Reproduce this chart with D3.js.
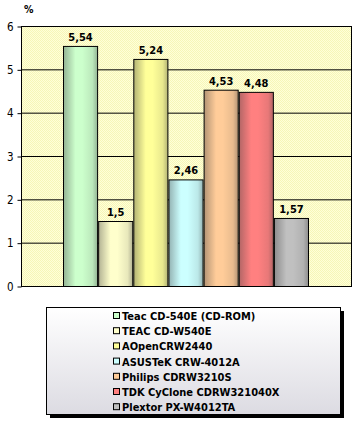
<!DOCTYPE html>
<html><head><meta charset="utf-8">
<script src="https://cdn.jsdelivr.net/npm/d3@7"></script>
<style>
html,body{margin:0;padding:0;background:#fff;}
svg{display:block;}
</style></head>
<body>
<svg id="chart" width="357" height="424"></svg>
<script>
const seriesNames = ["Teac CD-540E (CD-ROM)","TEAC CD-W540E","AOpenCRW2440","ASUSTeK CRW-4012A","Philips CDRW3210S","TDK CyClone CDRW321040X","Plextor PX-W4012TA"];
const seriesValues = [5.54, 1.5, 5.24, 2.46, 4.53, 4.48, 1.57];
const valueLabels = ["5,54","1,5","5,24","2,46","4,53","4,48","1,57"];
const seriesColors = ["#ccffcc","#ffffcc","#ffff99","#ccffff","#ffcc99","#ff8080","#c0c0c0"];
const yTicks = [0,1,2,3,4,5,6];
const yUnit = "%";

const svg = d3.select("#chart");
const plot = {left:21, top:26, right:352, bottom:286};
const y = d3.scaleLinear().domain([0,6]).range([plot.bottom, plot.top]);
const x = d3.scaleBand().domain(seriesNames).range([63, 308]).paddingInner(0.03);
const fontFam = "'DejaVu Sans Condensed', 'DejaVu Sans', sans-serif";

const defs = svg.append("defs");
const pat = defs.append("pattern").attr("id","dither").attr("width",2).attr("height",2).attr("patternUnits","userSpaceOnUse");
pat.append("rect").attr("width",2).attr("height",2).attr("fill","#ffffd8");
pat.append("rect").attr("width",1).attr("height",1).attr("fill","#f6f6b8");
pat.append("rect").attr("x",1).attr("y",1).attr("width",1).attr("height",1).attr("fill","#f6f6b8");

seriesColors.forEach((c,i)=>{
  const g = defs.append("linearGradient").attr("id","bg"+i).attr("x1","0").attr("x2","1").attr("y1","0").attr("y2","0");
  const dark = d3.interpolateRgb(c, "#404040")(0.4);
  const mid = d3.interpolateRgb(c, "#404040")(0.12);
  g.append("stop").attr("offset","0%").attr("stop-color",dark);
  g.append("stop").attr("offset","35%").attr("stop-color",c);
  g.append("stop").attr("offset","55%").attr("stop-color",c);
  g.append("stop").attr("offset","85%").attr("stop-color",mid);
  g.append("stop").attr("offset","100%").attr("stop-color",dark);
});
const lg = defs.append("linearGradient").attr("id","legbg").attr("x1","0").attr("x2","0").attr("y1","0").attr("y2","1");
lg.append("stop").attr("offset","0%").attr("stop-color","#ffffff");
lg.append("stop").attr("offset","100%").attr("stop-color","#dcdbe2");

// plot background
svg.append("rect").attr("x",plot.left).attr("y",plot.top)
  .attr("width",plot.right-plot.left).attr("height",plot.bottom-plot.top)
  .attr("fill","url(#dither)");

// grid lines
svg.append("g").selectAll("line").data(yTicks.filter(t=>t>0&&t<6)).join("line")
  .attr("x1",plot.left).attr("x2",plot.right)
  .attr("y1",d=>y(d)+0.5).attr("y2",d=>y(d)+0.5)
  .attr("stroke","#000").attr("stroke-width",1);

// y axis
const yAxis = d3.axisLeft(y).tickValues(yTicks).tickSize(4).tickPadding(4).tickFormat(d3.format("d"));
const ag = svg.append("g").attr("transform",`translate(${plot.left+0.5},0.5)`).call(yAxis);
ag.select(".domain").remove();
ag.selectAll(".tick line").attr("stroke","#000");
ag.selectAll(".tick text").attr("fill","#000").style("font-family",fontFam).style("font-size","11.5px");

// frame
svg.append("rect").attr("x",plot.left+0.5).attr("y",plot.top+0.5)
  .attr("width",plot.right-plot.left-1).attr("height",plot.bottom-plot.top)
  .attr("fill","none").attr("stroke","#000");

// bars
svg.append("g").selectAll("rect").data(seriesValues).join("rect")
  .attr("x",(d,i)=>x(seriesNames[i])+0.5)
  .attr("y",d=>y(d)+0.5)
  .attr("width",x.bandwidth())
  .attr("height",d=>y(0)-y(d))
  .attr("fill",(d,i)=>`url(#bg${i})`)
  .attr("stroke","#000").attr("stroke-width",1);

// value labels
svg.append("g").selectAll("text").data(seriesValues).join("text")
  .attr("x",(d,i)=>x(seriesNames[i])+x.bandwidth()/2+0.5)
  .attr("y",d=>y(d)-5)
  .attr("text-anchor","middle")
  .style("font-family",fontFam)
  .style("font-weight","bold").style("font-size","11px")
  .text((d,i)=>valueLabels[i]);

// unit label
svg.append("text").attr("x",24).attr("y",13)
  .style("font-family",fontFam)
  .style("font-weight","bold").style("font-size","10.5px").text(yUnit);

// legend
const leg = {x:46, y:307, w:294, h:107};
svg.append("rect").attr("x",leg.x+4).attr("y",leg.y+4).attr("width",leg.w).attr("height",leg.h).attr("fill","#000");
svg.append("rect").attr("x",leg.x+0.5).attr("y",leg.y+0.5).attr("width",leg.w).attr("height",leg.h)
  .attr("fill","url(#legbg)").attr("stroke","#000");
const items = svg.append("g").selectAll("g").data(seriesNames).join("g")
  .attr("transform",(d,i)=>`translate(113,${316+i*15.2})`);
items.append("rect").attr("x",0.5).attr("y",-3.5).attr("width",6).attr("height",6)
  .attr("fill",(d,i)=>seriesColors[i]).attr("stroke","#000");
items.append("text").attr("x",9).attr("y",4)
  .style("font-family",fontFam)
  .style("font-weight","bold").style("font-size","11px")
  .text(d=>d);
</script>
</body></html>
